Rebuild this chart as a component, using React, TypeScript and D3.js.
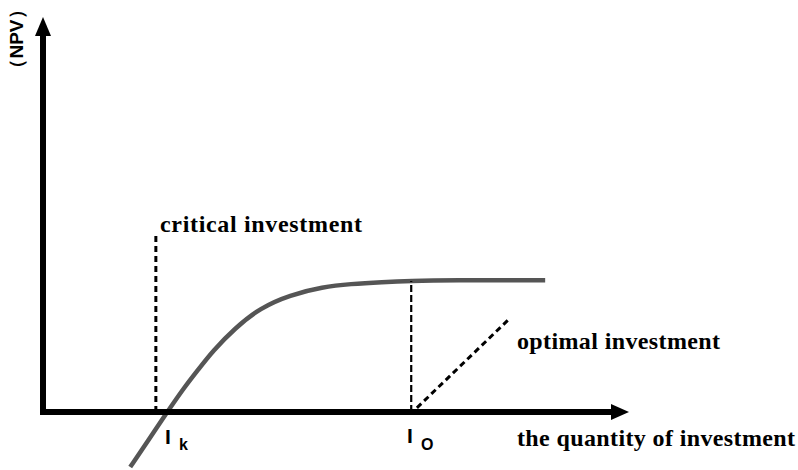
import React from "react";
import * as d3 from "d3";

// NPV curve against the quantity of investment (arbitrary units)
const investment = [15.3, 18.4, 21.8, 24.7, 27.2, 29.8, 33.7, 38.1, 43.3, 49.1, 53.9, 59.6, 64.4, 71.4, 88.1];
const npv = [-14.5, -7.6, 0, 6.3, 11.1, 16.1, 22.1, 27.4, 30.8, 32.9, 33.7, 34.2, 34.5, 34.7, 34.7];

const criticalX = 19.8;
const criticalTop = 46.6;
const optimalX = 64.6;
const optimalTop = 34.5;
const diagonal = [
  { x: 65.6, y: 1.1 },
  { x: 81.8, y: 24.5 },
];

const W = 798;
const H = 470;

function App() {
  const x = d3.scaleLinear().domain([0, 100]).range([43, 613]);
  const y = d3.scaleLinear().domain([0, 100]).range([412, 32]);

  const points = investment.map((v, i) => ({ x: v, y: npv[i] }));
  const line = d3
    .line<{ x: number; y: number }>()
    .x((d) => x(d.x))
    .y((d) => y(d.y))
    .curve(d3.curveBasis);

  const x0 = x(0);
  const y0 = y(0);
  const serif = "'Liberation Serif', 'Times New Roman', serif";
  const sans = "'Liberation Sans', Arial, sans-serif";

  return (
    <svg
      width={W}
      height={H}
      style={{ position: "absolute", left: 0, top: 0, background: "#fff" }}
    >
      {/* curve */}
      <path d={line(points) || ""} fill="none" stroke="#555" strokeWidth={4.5} />

      {/* dashed guides */}
      <line x1={x(criticalX)} x2={x(criticalX)} y1={y0} y2={y(criticalTop)} stroke="#000" strokeWidth={3} strokeDasharray="6,4" />
      <line x1={x(optimalX)} x2={x(optimalX)} y1={y0} y2={y(optimalTop)} stroke="#000" strokeWidth={2.2} strokeDasharray="7,3" />
      <line
        x1={x(diagonal[0].x)}
        y1={y(diagonal[0].y)}
        x2={x(diagonal[1].x)}
        y2={y(diagonal[1].y)}
        stroke="#000"
        strokeWidth={3}
        strokeDasharray="6,4"
      />

      {/* axes */}
      <line x1={x0} x2={x0} y1={y0 + 3} y2={34} stroke="#000" strokeWidth={6} />
      <polygon points={`${x0},17 ${x0 - 8},36 ${x0 + 8},36`} fill="#000" />
      <line x1={40} x2={613} y1={y0} y2={y0} stroke="#000" strokeWidth={6} />
      <polygon points={`629,${y0} 611,${y0 - 8} 611,${y0 + 8}`} fill="#000" />

      {/* labels */}
      <text
        transform="translate(23,39) rotate(-90)"
        textAnchor="middle"
        fontFamily={sans}
        fontWeight="bold"
        fontSize={19}
      >
        （NPV）
      </text>
      <text x={160} y={232} fontFamily={serif} fontWeight="bold" fontSize={24} textLength={202} lengthAdjust="spacing">
        critical investment
      </text>
      <text x={517} y={349} fontFamily={serif} fontWeight="bold" fontSize={24} textLength={203} lengthAdjust="spacing">
        optimal investment
      </text>
      <text x={517} y={446} fontFamily={serif} fontWeight="bold" fontSize={24} textLength={278} lengthAdjust="spacing">
        the quantity of investment
      </text>

      <text x={165} y={444} fontFamily={sans} fontWeight="bold" fontSize={21}>I</text>
      <text x={179} y={450} fontFamily={sans} fontWeight="bold" fontSize={16}>k</text>
      <text x={407} y={443} fontFamily={sans} fontWeight="bold" fontSize={21}>I</text>
      <text x={421} y={450} fontFamily={sans} fontWeight="bold" fontSize={16}>O</text>
    </svg>
  );
}

export default App;
